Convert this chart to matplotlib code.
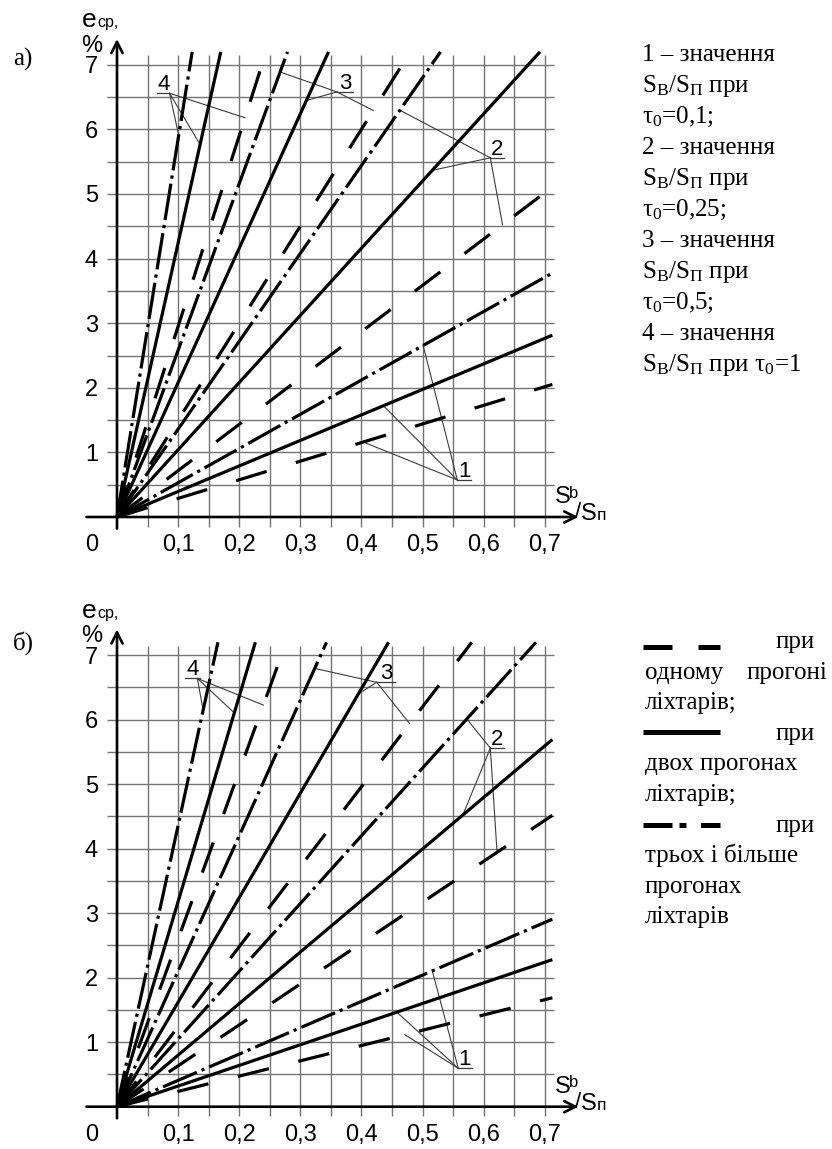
import numpy as np
import matplotlib
matplotlib.use("Agg")
import matplotlib.pyplot as plt

plt.rcParams['font.family'] = ['Liberation Sans', 'DejaVu Sans']
plt.rcParams['mathtext.fontset'] = 'custom'
plt.rcParams['mathtext.rm'] = 'Liberation Serif'
plt.rcParams['mathtext.it'] = 'Liberation Serif:italic'

W, H = 832, 1149

# slopes k of the lines e_cp = k * Sb/Sп, groups 1..4 (tau0 = 0.1, 0.25, 0.5, 1)
a_dashed = [2.88, 7.17, 15.0, 29.5]     # one span of lanterns
a_solid = [3.95, 10.4, 20.8, 42.4]      # two spans
a_dashdot = [5.3, 13.6, 25.8, 58.5]     # three and more spans

b_dashed = [2.37, 6.34, 12.4, 26.0]
b_solid = [3.2, 7.99, 16.2, 31.8]
b_dashdot = [4.08, 10.5, 21.0, 43.6]

x_ticks = [0.1, 0.2, 0.3, 0.4, 0.5, 0.6, 0.7]
x_ticklabels = ['0,1', '0,2', '0,3', '0,4', '0,5', '0,6', '0,7']
y_ticks = [1, 2, 3, 4, 5, 6, 7]
x_grid = np.arange(0.05, 0.701, 0.05)
y_grid = np.arange(0.5, 7.01, 0.5)

X_END, Y_END = 0.7125, 7.2
XL, YL = (-0.16, 0.84), (-0.65, 7.85)

# label callouts: number, underline x0, x1, y, anchor x, targets (style, x on line)
labels_a = [
    (1, 0.557, 0.580, 0.573, 0.557, [('dashed', 0.403), ('solid', 0.436), ('dashdot', 0.501)]),
    (2, 0.611, 0.634, 5.56, 0.611, [('dashed', 0.631), ('solid', 0.516), ('dashdot', 0.463)]),
    (3, 0.360, 0.387, 6.58, 0.360, [('dashed', 0.4195), ('solid', 0.310), ('dashdot', 0.267)]),
    (4, 0.065, 0.087, 6.56, 0.086, [('dashed', 0.2095), ('solid', 0.136), ('dashdot', 0.101)]),
]
labels_b = [
    (1, 0.5586, 0.5805, 0.595, 0.5586, [('dashed', 0.471), ('solid', 0.458), ('dashdot', 0.516)]),
    (2, 0.611, 0.634, 5.56, 0.611, [('dashed', 0.622), ('solid', 0.566), ('dashdot', 0.5725)]),
    (3, 0.425, 0.455, 6.58, 0.425, [('dashed', 0.479), ('solid', 0.395), ('dashdot', 0.3236)]),
    (4, 0.111, 0.136, 6.64, 0.1315, [('dashed', 0.2395), ('solid', 0.192), ('dashdot', 0.141)]),
]

styles = {'dashed': (0, (10, 9.5)), 'solid': '-', 'dashdot': (0, (11.5, 1.6, 1.0, 1.6))}
GRID = '#747474'
LEAD = '#3c3c3c'


def place(ox, oy, sx, sy):
    left = (ox + XL[0] * sx) / W
    right = (ox + XL[1] * sx) / W
    bottom = 1 - (oy - YL[0] * sy) / H
    top = 1 - (oy - YL[1] * sy) / H
    return [left, bottom, right - left, top - bottom]


def chart(ax, dashed, solid, dashdot, labels):
    ax.set_xlim(XL)
    ax.set_ylim(YL)
    ax.axis('off')
    ax.vlines(x_grid, -0.15, 7.15, color=GRID, lw=1.0, zorder=1)
    ax.hlines(y_grid, -0.017, 0.715, color=GRID, lw=1.0, zorder=1)
    arrow = dict(arrowstyle='->', lw=1.9, color='k', mutation_scale=20, shrinkA=0, shrinkB=0)
    ax.annotate('', xy=(0.755, 0), xytext=(-0.05, 0), arrowprops=arrow, zorder=4)
    ax.annotate('', xy=(0, 7.4), xytext=(0, -0.18), arrowprops=arrow, zorder=4)

    slopes = {'dashed': dashed, 'solid': solid, 'dashdot': dashdot}
    for name, ks in slopes.items():
        for k in ks:
            xs = np.array([0.0, min(X_END, Y_END / k)])
            ax.plot(xs, k * xs, color='k', lw=2.3, linestyle=styles[name],
                    solid_capstyle='butt', dash_capstyle='butt', zorder=3)

    for num, u0, u1, uy, anc, targets in labels:
        ax.plot([u0, u1], [uy, uy], color=LEAD, lw=0.9, zorder=2.5)
        for name, tx in targets:
            k = slopes[name][num - 1]
            ax.plot([anc, tx], [uy, k * tx], color=LEAD, lw=0.8, zorder=2.5)
        ax.text((u0 + u1) / 2, uy + 0.05, str(num), ha='center', va='baseline', fontsize=16)

    for x, t in zip(x_ticks, x_ticklabels):
        ax.text(x, -0.53, t, ha='center', va='baseline', fontsize=17)
    for y in y_ticks:
        ax.text(-0.042, y - 0.13, str(y), ha='center', va='baseline', fontsize=17)
    ax.text(-0.042, -0.53, '0', ha='center', va='baseline', fontsize=17)

    ax.text(-0.046, 7.58, 'e', ha='center', va='baseline', fontsize=19)
    ax.text(-0.032, 7.58, 'ср,', ha='left', va='baseline', fontsize=11.5)
    ax.text(-0.042, 7.2, '%', ha='center', va='baseline', fontsize=17)

    ax.text(0.716, 0.22, 'S', ha='left', va='baseline', fontsize=17)
    ax.text(0.740, 0.30, 'b', ha='left', va='baseline', fontsize=12)
    ax.text(0.749, -0.02, '/', ha='left', va='baseline', fontsize=16)
    ax.text(0.760, -0.05, 'S', ha='left', va='baseline', fontsize=17)
    ax.text(0.785, -0.05, 'п', ha='left', va='baseline', fontsize=12.5)


fig = plt.figure(figsize=(W / 100, H / 100), dpi=100)

ax_a = fig.add_axes(place(117, 517, 611, 64.6))
chart(ax_a, a_dashed, a_solid, a_dashdot, labels_a)

ax_b = fig.add_axes(place(117, 1106.7, 611, 64.5))
chart(ax_b, b_dashed, b_solid, b_dashdot, labels_b)

# overlay in pixel coordinates for the panel letters and the side notes
ov = fig.add_axes([0, 0, 1, 1])
ov.set_xlim(0, W)
ov.set_ylim(H, 0)
ov.axis('off')
ov.patch.set_visible(False)

serif = ['Liberation Serif', 'DejaVu Serif']
ov.text(13, 66, 'а)', family=serif, fontsize=18, va='baseline')
ov.text(13, 650, 'б)', family=serif, fontsize=18, va='baseline')

sb = r'S$_{\mathrm{В}}$/S$_{\mathrm{П}}$ при'
notes_a = ['1 – значення', sb, r'τ$_0$=0,1;',
           '2 – значення', sb, r'τ$_0$=0,25;',
           '3 – значення', sb, r'τ$_0$=0,5;',
           '4 – значення', sb + r' τ$_0$=1']
for i, t in enumerate(notes_a):
    ov.text(642, 61 + 31 * i, t, family=serif, fontsize=18, va='baseline')

# line-style key
ov.plot([643, 720], [647, 647], color='k', lw=3.6, linestyle=(0, (5.8, 5.2)), dash_capstyle='butt')
ov.plot([643, 720], [732, 732], color='k', lw=3.6, solid_capstyle='butt')
ov.plot([643, 720], [825, 825], color='k', lw=3.6, linestyle=(0, (5.8, 1.4, 1.4, 2.9)),
        dash_capstyle='butt')
for yb in [648, 740, 831.6]:
    ov.text(815, yb, 'при', family=serif, fontsize=18, va='baseline', ha='right')
notes_b = [(678.6, 'одному'), (709.2, 'ліхтарів;'), (770.4, 'двох прогонах'),
           (801, 'ліхтарів;'), (862.2, 'трьох і більше'), (892.8, 'прогонах'), (923.4, 'ліхтарів')]
for yb, t in notes_b:
    ov.text(645, yb, t, family=serif, fontsize=18, va='baseline')
ov.text(827, 678.6, 'прогоні', family=serif, fontsize=18, va='baseline', ha='right')

fig.savefig('out.png', dpi=100)
